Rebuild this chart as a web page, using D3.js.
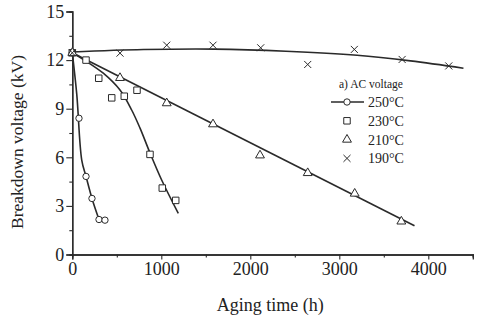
<!DOCTYPE html>
<html>
<head>
<meta charset="utf-8">
<script src="https://cdnjs.cloudflare.com/ajax/libs/d3/7.8.5/d3.min.js"></script>
<style>
  body { margin: 0; background: #fff; }
  text { font-family: "Liberation Serif", "DejaVu Serif", serif; fill: #222; }
</style>
</head>
<body>
<script>
const t250 = [0, 75, 154, 221, 300, 367];
const v250 = [12.45, 8.41, 4.82, 3.46, 2.16, 2.12];
const t230 = [0, 154, 297, 443, 584, 727, 873, 1011, 1162];
const v230 = [12.45, 12.0, 10.88, 9.67, 9.77, 10.14, 6.18, 4.1, 3.34];
const t210 = [0, 536, 1061, 1581, 2109, 2645, 3173, 3697];
const v210 = [12.45, 10.9, 9.34, 8.04, 6.12, 5.03, 3.76, 2.04];
const t190 = [0, 536, 1061, 1581, 2117, 2645, 3169, 3706, 4230];
const v190 = [12.45, 12.43, 12.92, 12.92, 12.76, 11.73, 12.66, 12.04, 11.64];

// fitted curves (also)
const fit250t = [0, 50, 106, 154, 221, 300];
const fit250v = [12.45, 9.9, 5.83, 4.82, 3.46, 2.16];
const fit230t = [0, 150, 348, 536, 667, 761, 873, 1004, 1191];
const fit230v = [12.45, 11.95, 11.19, 10.15, 8.92, 7.8, 6.27, 4.6, 2.54];
const fit210t = [0, 3845];
const fit210v = [12.45, 1.77];
const fit190t = [0, 800, 1600, 2400, 3200, 3800, 4395];
const fit190v = [12.5, 12.65, 12.68, 12.55, 12.3, 11.95, 11.5];

const xTicks = [0, 1000, 2000, 3000, 4000];
const yTicks = [0, 3, 6, 9, 12, 15];
const legendLabels = ["250°C", "230°C", "210°C", "190°C"];

const W = 480, H = 321;
const svg = d3.select("body").append("svg").attr("width", W).attr("height", H);

const x = d3.scaleLinear().domain([0, 4500]).range([72.3, 472.8]);
const y = d3.scaleLinear().domain([0, 15]).range([254.5, 11.5]);

const ink = "#2a2a2a";

// axes
const xAxis = d3.axisBottom(x).tickValues(xTicks).tickSize(5).tickPadding(3).tickFormat(d3.format("d"));
const xMinor = d3.axisBottom(x).tickValues([500, 1500, 2500, 3500, 4500]).tickSize(3).tickFormat("");
const yAxis = d3.axisLeft(y).tickValues(yTicks).tickSize(6).tickPadding(2);
const yMinor = d3.axisLeft(y).tickValues([1.5, 4.5, 7.5, 10.5, 13.5]).tickSize(3).tickFormat("");

function style(g) {
  g.select(".domain").attr("stroke", ink).attr("stroke-width", 1.3);
  g.selectAll(".tick line").attr("stroke", ink).attr("stroke-width", 1.1);
  g.selectAll(".tick text").style("font-family", "Liberation Serif, serif").style("font-size", "18px").attr("fill", ink);
}

svg.append("g").attr("transform", `translate(0,${y(0)})`).call(xMinor).call(style);
svg.append("g").attr("transform", `translate(0,${y(0)})`).call(xAxis).call(style);
svg.append("g").attr("transform", `translate(${x(0)},0)`).call(yMinor).call(style);
svg.append("g").attr("transform", `translate(${x(0)},0)`).call(yAxis).call(style);

svg.append("text")
  .attr("x", x(2000) + 20).attr("y", 311)
  .attr("text-anchor", "middle")
  .style("font-size", "18px")
  .text("Aging time (h)");

svg.append("text")
  .attr("transform", "translate(23,142) rotate(-90)")
  .attr("text-anchor", "middle")
  .style("font-size", "17.5px")
  .text("Breakdown voltage (kV)");

// fit lines
const line = d3.line().x(d => x(d[0])).y(d => y(d[1])).curve(d3.curveCatmullRom.alpha(0.5));
const fits = [[fit250t, fit250v], [fit230t, fit230v], [fit210t, fit210v], [fit190t, fit190v]];
fits.forEach(([t, v]) => {
  svg.append("path")
    .datum(t.map((d, i) => [d, v[i]]))
    .attr("d", line)
    .attr("fill", "none")
    .attr("stroke", ink)
    .attr("stroke-width", 1.6);
});

// markers
const shapes = [
  { sym: d3.symbolCircle, size: 32 },
  { sym: d3.symbolSquare, size: 42 },
  { sym: d3.symbolTriangle, size: 34 },
  { sym: d3.symbolTimes, size: 34 }
];
const series = [[t250, v250], [t230, v230], [t210, v210], [t190, v190]];
series.forEach(([t, v], k) => {
  const sh = shapes[k];
  svg.append("g").selectAll("path")
    .data(t.map((d, i) => [d, v[i]]))
    .join("path")
    .attr("transform", d => `translate(${x(d[0])},${y(d[1])})`)
    .attr("d", d3.symbol().type(sh.sym).size(sh.size))
    .attr("fill", "white")
    .attr("stroke", ink)
    .attr("stroke-width", 1);
});

// legend
const lg = svg.append("g");
lg.append("text").attr("x", 339).attr("y", 88).style("font-size", "11.5px").text("a) AC voltage");
legendLabels.forEach((lab, k) => {
  const cy = 102 + k * 18.8;
  const sh = shapes[k];
  if (k === 0) {
    lg.append("line").attr("x1", 331).attr("x2", 364).attr("y1", cy).attr("y2", cy)
      .attr("stroke", ink).attr("stroke-width", 1.6);
  }
  lg.append("path")
    .attr("transform", `translate(347,${cy})`)
    .attr("d", d3.symbol().type(sh.sym).size(sh.size))
    .attr("fill", "white").attr("stroke", ink).attr("stroke-width", 1);
  lg.append("text").attr("x", 368).attr("y", cy + 5).style("font-size", "14px").text(lab);
});
</script>
</body>
</html>
